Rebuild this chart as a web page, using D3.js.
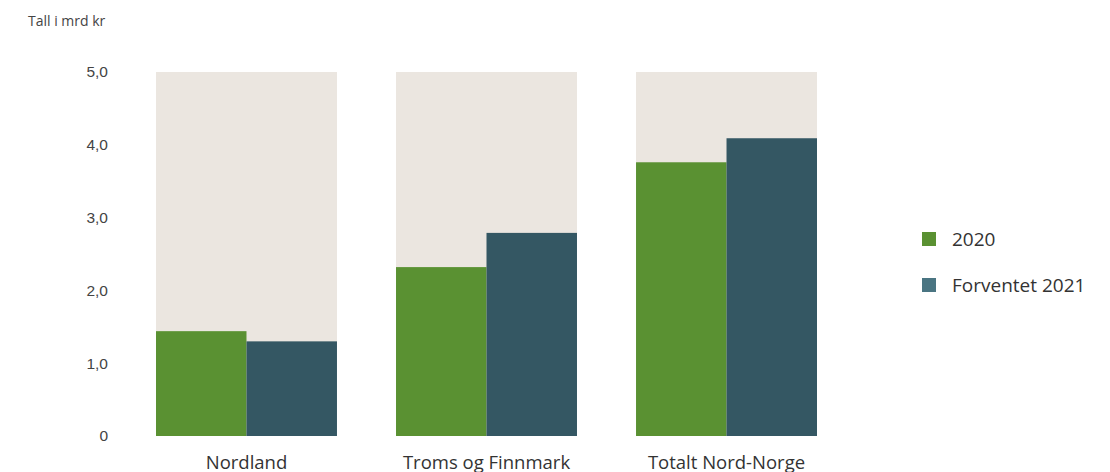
<!DOCTYPE html>
<html lang="no">
<head>
<meta charset="UTF-8">
<title>Tall i mrd kr</title>
<script src="https://d3js.org/d3.v7.min.js"></script>
<style>
    body { margin: 0; background: #fff; font-family: "Open Sans", Lato, sans-serif; }
    svg { display: block; }
    .tick text { fill: #444; font-size: 15.5px; }
    .cat-label { fill: #333; font-size: 18.5px; }
    .legend text { fill: #333; font-size: 19px; }
</style>
</head>
<body>
<svg width="1110" height="472"></svg>
<script>
    const categories = ["Nordland", "Troms og Finnmark", "Totalt Nord-Norge"];
    const seriesNames = ["2020", "Forventet 2021"];
    const values2020 = [1.44, 2.32, 3.76];
    const values2021 = [1.30, 2.79, 4.09];
    const yTicks = [0, 1, 2, 3, 4, 5];
    const yMax = 5;

    const colors = ["#5a9132", "#345763"];
    const legendColors = ["#5a9132", "#4a7582"];
    const bgColor = "#ebe6e0";

    const svg = d3.select("svg");

    const x = d3.scaleBand().domain(categories).range([156, 817]).paddingInner(0.246).paddingOuter(0);
    const xs = d3.scaleBand().domain(seriesNames).range([0, x.bandwidth()]);
    const y = d3.scaleLinear().domain([0, yMax]).range([436, 72]);

    const series = [values2020, values2021];

    // background columns
    svg.append("g").selectAll("rect")
        .data(categories)
        .join("rect")
        .attr("x", d => x(d))
        .attr("width", x.bandwidth())
        .attr("y", y(yMax))
        .attr("height", y(0) - y(yMax))
        .attr("fill", bgColor);

    // bars
    series.forEach((vals, si) => {
        svg.append("g").selectAll("rect")
            .data(categories)
            .join("rect")
            .attr("x", (d) => x(d) + xs(seriesNames[si]))
            .attr("width", xs.bandwidth())
            .attr("y", (d, i) => y(vals[i]))
            .attr("height", (d, i) => y(0) - y(vals[i]))
            .attr("fill", colors[si]);
    });

    // y axis
    const yAxis = svg.append("g")
        .attr("transform", "translate(108,0)")
        .call(d3.axisLeft(y).tickValues(yTicks).tickSize(0).tickPadding(0)
            .tickFormat(d => d === 0 ? "0" : d3.format(".1f")(d).replace(".", ",")));
    yAxis.select(".domain").remove();
    yAxis.selectAll(".tick text").attr("font-family", null).attr("font-size", null);

    // category labels (cut by the bottom edge, as in the original)
    svg.append("g").selectAll("text")
        .data(categories)
        .join("text")
        .attr("class", "cat-label")
        .attr("x", d => x(d) + x.bandwidth() / 2)
        .attr("y", 469)
        .attr("text-anchor", "middle")
        .text(d => d);

    // unit label
    svg.append("text")
        .attr("x", 28)
        .attr("y", 26)
        .attr("fill", "#444")
        .attr("font-size", 14)
        .text("Tall i mrd kr");

    // legend
    const legend = svg.append("g").attr("class", "legend");
    seriesNames.forEach((name, i) => {
        const ly = 239 + i * 46;
        legend.append("rect")
            .attr("x", 922).attr("y", ly - 7)
            .attr("width", 14).attr("height", 14)
            .attr("fill", legendColors[i]);
        legend.append("text")
            .attr("x", 952).attr("y", ly)
            .attr("dy", "0.35em")
            .text(name);
    });
</script>
</body>
</html>
